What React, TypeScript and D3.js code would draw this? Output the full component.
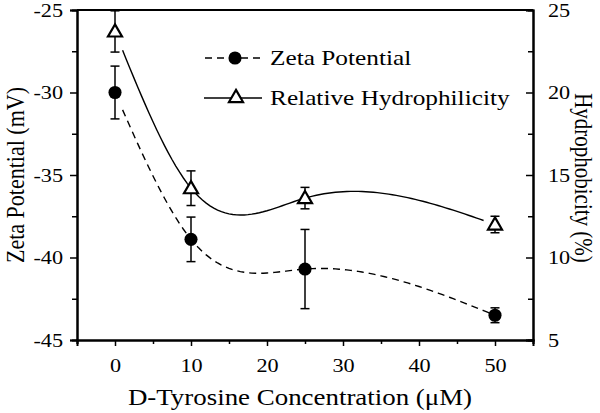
import React, { useEffect, useRef } from 'react';
import * as d3 from 'd3';

const concentrations = [0, 10, 25, 50];
const zetaValues = [-30.0, -38.9, -40.7, -43.5];
const zetaErrors = [1.6, 1.35, 2.4, 0.45];
const hydroValues = [23.7, 14.2, 13.6, 12.0];
const hydroErrors = [1.25, 1.05, 0.65, 0.5];
const xTicks = [0, 10, 20, 30, 40, 50];
const leftTicks = [-45, -40, -35, -30, -25];
const rightTicks = [5, 10, 15, 20, 25];

// natural cubic spline through (xs, ys), returns function of x
function naturalSpline(xs: number[], ys: number[]) {
  const n = xs.length;
  const h = d3.range(n - 1).map(i => xs[i + 1] - xs[i]);
  const a = new Array(n).fill(0), b = new Array(n).fill(0), c = new Array(n).fill(0), r = new Array(n).fill(0);
  b[0] = 1; b[n - 1] = 1;
  for (let i = 1; i < n - 1; i++) {
    a[i] = h[i - 1];
    b[i] = 2 * (h[i - 1] + h[i]);
    c[i] = h[i];
    r[i] = 3 * ((ys[i + 1] - ys[i]) / h[i] - (ys[i] - ys[i - 1]) / h[i - 1]);
  }
  const cp = new Array(n).fill(0), rp = new Array(n).fill(0);
  cp[0] = c[0] / b[0]; rp[0] = r[0] / b[0];
  for (let i = 1; i < n; i++) {
    const m = b[i] - a[i] * cp[i - 1];
    cp[i] = c[i] / m;
    rp[i] = (r[i] - a[i] * rp[i - 1]) / m;
  }
  const M = new Array(n).fill(0);
  M[n - 1] = rp[n - 1];
  for (let i = n - 2; i >= 0; i--) M[i] = rp[i] - cp[i] * M[i + 1];
  return (x: number) => {
    let i = 0;
    while (i < n - 2 && x > xs[i + 1]) i++;
    const dx = x - xs[i];
    const bb = (ys[i + 1] - ys[i]) / h[i] - h[i] * (2 * M[i] + M[i + 1]) / 3;
    const dd = (M[i + 1] - M[i]) / (3 * h[i]);
    return ys[i] + bb * dx + M[i] * dx * dx + dd * dx * dx * dx;
  };
}

export default function App() {
  const ref = useRef<SVGSVGElement>(null);

  useEffect(() => {
    const W = 600, H = 413;
    const margin = { top: 10, right: 67, bottom: 73, left: 77 };
    const svg = d3.select(ref.current);
    svg.selectAll('*').remove();
    const font = '"Liberation Serif", "Times New Roman", serif';
    const sx = 1.17; // the original lettering is a bit wider than Times

    const x = d3.scaleLinear().domain([-5, 55]).range([margin.left, W - margin.right]);
    const yL = d3.scaleLinear().domain([-45, -25]).range([H - margin.bottom, margin.top]);
    const yR = d3.scaleLinear().domain([5, 25]).range([H - margin.bottom, margin.top]);

    const g = svg.append('g');
    const fmt = (d: d3.NumberValue) => String(d);

    // axes
    const bottom = g.append('g')
      .attr('transform', `translate(0,${H - margin.bottom})`)
      .call(d3.axisBottom(x).tickValues(xTicks).tickSize(6).tickPadding(13).tickFormat(fmt));
    g.append('g')
      .attr('transform', `translate(0,${H - margin.bottom})`)
      .call(d3.axisBottom(x).tickValues([-5, 5, 15, 25, 35, 45, 55]).tickSize(4).tickFormat(() => ''));
    g.append('g')
      .attr('transform', `translate(${margin.left},0)`)
      .call(d3.axisLeft(yL).tickValues(leftTicks).tickSize(7).tickPadding(7).tickFormat(fmt));
    g.append('g')
      .attr('transform', `translate(${margin.left},0)`)
      .call(d3.axisLeft(yL).tickValues([-42.5, -37.5, -32.5, -27.5]).tickSize(5).tickFormat(() => ''));
    g.append('g')
      .attr('transform', `translate(${W - margin.right},0)`)
      .call(d3.axisRight(yR).tickValues(rightTicks).tickSize(-7).tickPadding(15).tickFormat(fmt));
    g.append('g')
      .attr('transform', `translate(${W - margin.right},0)`)
      .call(d3.axisRight(yR).tickValues([7.5, 12.5, 17.5, 22.5]).tickSize(-5).tickFormat(() => ''));
    g.append('line')
      .attr('x1', margin.left).attr('x2', W - margin.right)
      .attr('y1', margin.top).attr('y2', margin.top)
      .attr('stroke', '#000').attr('stroke-width', 2);

    g.selectAll('.domain').attr('stroke-width', 2);
    g.selectAll('.tick line').attr('stroke-width', 1.5);
    g.selectAll('.tick text').attr('font-family', font).attr('font-size', 19).attr('fill', '#000')
      .each(function () {
        const t = d3.select(this);
        const tx = +(t.attr('x') || 0);
        t.attr('x', tx / sx).attr('transform', `scale(${sx},1)`);
      });
    bottom.selectAll('.tick text').attr('dy', '0.71em');

    // curves
    const zs = naturalSpline(concentrations, zetaValues);
    const hs = naturalSpline(concentrations, hydroValues);
    const samples = d3.range(0, 50.01, 0.5);
    g.append('path')
      .attr('d', d3.line<number>().x(d => x(d)).y(d => yL(zs(d)))(samples.filter(d => d >= 0.8))!)
      .attr('fill', 'none').attr('stroke', '#000').attr('stroke-width', 1.4)
      .attr('stroke-dasharray', '7,5');
    g.append('path')
      .attr('d', d3.line<number>().x(d => x(d)).y(d => yR(hs(d)))(samples.filter(d => d >= 0.9 && d <= 48.7))!)
      .attr('fill', 'none').attr('stroke', '#000').attr('stroke-width', 1.4);

    // error bars
    const errBars = (vals: number[], errs: number[], y: d3.ScaleLinear<number, number>) => {
      concentrations.forEach((c, i) => {
        const cx = x(c);
        const t = y(vals[i] + errs[i]), b = y(vals[i] - errs[i]);
        g.append('line').attr('x1', cx).attr('x2', cx).attr('y1', t).attr('y2', b)
          .attr('stroke', '#000').attr('stroke-width', 1.5);
        [t, b].forEach(yy => g.append('line').attr('x1', cx - 4.5).attr('x2', cx + 4.5)
          .attr('y1', yy).attr('y2', yy).attr('stroke', '#000').attr('stroke-width', 1.5));
      });
    };
    errBars(zetaValues, zetaErrors, yL);
    errBars(hydroValues, hydroErrors, yR);

    const tri = d3.symbol().type(d3.symbolTriangle).size(85);
    const dot = d3.symbol().type(d3.symbolCircle).size(135);

    g.selectAll('.zeta').data(concentrations).enter().append('path')
      .attr('d', dot()!)
      .attr('transform', (d, i) => `translate(${x(d)},${yL(zetaValues[i])})`)
      .attr('fill', '#000');
    g.selectAll('.hydro').data(concentrations).enter().append('path')
      .attr('d', tri()!)
      .attr('transform', (d, i) => `translate(${x(d)},${yR(hydroValues[i]) + 1})`)
      .attr('fill', '#fff').attr('stroke', '#000').attr('stroke-width', 2.2);

    // legend
    const lg = g.append('g');
    lg.append('line').attr('x1', 205).attr('x2', 262).attr('y1', 58).attr('y2', 58)
      .attr('stroke', '#000').attr('stroke-width', 1.4).attr('stroke-dasharray', '7,5');
    lg.append('path').attr('d', dot()!).attr('transform', 'translate(235,58)').attr('fill', '#000');
    lg.append('text').attr('transform', `translate(270,65) scale(${sx * 1.03},1)`).text('Zeta Potential')
      .attr('font-family', font).attr('font-size', 21);
    lg.append('line').attr('x1', 204).attr('x2', 262).attr('y1', 98).attr('y2', 98)
      .attr('stroke', '#000').attr('stroke-width', 1.4);
    lg.append('path').attr('d', tri()!).attr('transform', 'translate(236,98)')
      .attr('fill', '#fff').attr('stroke', '#000').attr('stroke-width', 2.2);
    lg.append('text').attr('transform', `translate(270,105) scale(${sx * 1.03},1)`).text('Relative Hydrophilicity')
      .attr('font-family', font).attr('font-size', 21);

    // axis titles
    g.append('text').attr('transform', `translate(300,405) scale(${sx},1)`).attr('text-anchor', 'middle')
      .attr('font-family', font).attr('font-size', 23).text('D-Tyrosine Concentration (μM)');
    g.append('text')
      .attr('transform', `translate(24,175) rotate(-90) scale(1,${sx})`)
      .attr('text-anchor', 'middle').attr('font-family', font).attr('font-size', 22)
      .text('Zeta Potential (mV)');
    g.append('text')
      .attr('transform', `translate(575,178) rotate(90) scale(1,${sx})`)
      .attr('text-anchor', 'middle').attr('font-family', font).attr('font-size', 21)
      .text('Hydrophobicity (%)');
  }, []);

  return <svg ref={ref} width={600} height={413} style={{ position: 'absolute', left: 0, top: 0 }} />;
}
